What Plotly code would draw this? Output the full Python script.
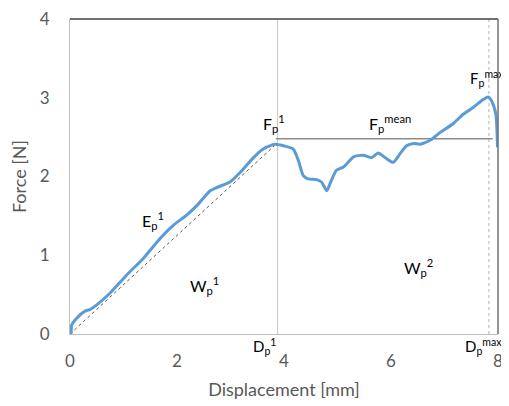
import plotly.graph_objects as go

# Force-displacement curve
disp = [0.0, 0.02, 0.03, 0.125, 0.28, 0.37, 0.5, 0.75, 1.06, 1.37, 1.68, 1.93, 2.18, 2.37,
        2.62, 2.74, 2.99, 3.18, 3.43, 3.61, 3.83, 3.93, 3.99, 4.17, 4.27, 4.36, 4.45, 4.61,
        4.70, 4.80, 4.86, 4.98, 5.11, 5.30, 5.48, 5.64, 5.76, 5.89, 6.04, 6.17, 6.29, 6.42,
        6.54, 6.73, 6.92, 7.16, 7.35, 7.54, 7.73, 7.82, 7.88, 7.96, 7.99]
force = [0.0, 0.01, 0.11, 0.2, 0.29, 0.31, 0.37, 0.52, 0.75, 0.96, 1.21, 1.38, 1.51, 1.63,
         1.82, 1.86, 1.93, 2.05, 2.24, 2.35, 2.41, 2.40, 2.39, 2.35, 2.20, 2.01, 1.97, 1.96,
         1.93, 1.82, 1.91, 2.08, 2.12, 2.25, 2.27, 2.24, 2.30, 2.24, 2.18, 2.29, 2.39, 2.42,
         2.41, 2.46, 2.56, 2.67, 2.79, 2.88, 2.98, 3.01, 2.96, 2.79, 2.37]

# Reference lines
secant_x = [0.0, 3.85]
secant_y = [0.0, 2.41]
dp1_x = [3.88, 3.88]
dp1_y = [0.0, 4.0]
dpmax_x = [7.83, 7.83]
dpmax_y = [0.0, 4.0]
fmean_x = [3.85, 7.9]
fmean_y = [2.48, 2.48]

# Labels inside the plot (data coordinates)
label_text = ["E<sub>p</sub><sup>1</sup>", "W<sub>p</sub><sup>1</sup>", "W<sub>p</sub><sup>2</sup>",
              "F<sub>p</sub><sup>1</sup>", "F<sub>p</sub><sup>mean</sup>"]
label_x = [1.55, 2.52, 6.52, 3.81, 5.98]
label_y = [1.44, 0.62, 0.85, 2.67, 2.67]

# Labels near the axis / edge
fmax_text = "F<sub>p</sub><sup>max</sup>"
fmax_x = 7.80
fmax_y = 3.24
dlabel_text = ["D<sub>p</sub><sup>1</sup>", "D<sub>p</sub><sup>max</sup>"]
dlabel_x = [3.64, 7.72]
dlabel_y = -0.16

x_ticks = [0, 2, 4, 6, 8]
y_ticks = [0, 1, 2, 3, 4]
y_max = 4.0

FONT = "Lato, Open Sans, sans-serif"

fig = go.Figure()
fig.add_trace(go.Scatter(x=dp1_x, y=dp1_y, mode="lines",
                         line=dict(color="#c8c8c8", width=1), hoverinfo="skip"))
fig.add_trace(go.Scatter(x=dpmax_x, y=dpmax_y, mode="lines",
                         line=dict(color="#bfbfbf", width=1.2, dash="dot"), hoverinfo="skip"))
fig.add_trace(go.Scatter(x=fmean_x, y=fmean_y, mode="lines",
                         line=dict(color="#8c8c8c", width=1.5), hoverinfo="skip"))
fig.add_trace(go.Scatter(x=secant_x, y=secant_y, mode="lines",
                         line=dict(color="#555555", width=1, dash="dot"), hoverinfo="skip"))
fig.add_trace(go.Scatter(x=disp, y=force, mode="lines",
                         line=dict(color="#5B9BD5", width=3, shape="spline", smoothing=0.6)))

for t, lx, ly in zip(label_text, label_x, label_y):
    fig.add_annotation(x=lx, y=ly, text=t, showarrow=False, xref="x", yref="y",
                       xanchor="center", yanchor="middle",
                       font=dict(family=FONT, size=16, color="#000000"))

fig.add_annotation(x=fmax_x, y=fmax_y, text=fmax_text, showarrow=False, xref="x", yref="y",
                   xanchor="center", yanchor="middle",
                   font=dict(family=FONT, size=15, color="#000000"))

for t, lx in zip(dlabel_text, dlabel_x):
    fig.add_annotation(x=lx, y=dlabel_y / y_max, text=t, showarrow=False, xref="x", yref="paper",
                       xanchor="center", yanchor="middle",
                       font=dict(family=FONT, size=15, color="#000000"))

fig.add_shape(type="line", xref="paper", yref="paper", x0=0, x1=1, y0=1, y1=1,
              line=dict(color="#404040", width=1.5))
fig.add_shape(type="line", xref="paper", yref="paper", x0=1, x1=1, y0=0, y1=1,
              line=dict(color="#707070", width=1.5))

# page body has an 8px margin, so the figure is sized/offset to compensate
fig.update_layout(
    width=501, height=398,
    margin=dict(l=62, r=11, t=11, b=72),
    paper_bgcolor="white", plot_bgcolor="white",
    showlegend=False,
    font=dict(family=FONT, color="#595959"),
    xaxis=dict(range=[0, 8], tickvals=x_ticks, showgrid=False, zeroline=False,
               showline=True, linecolor="#bfbfbf", linewidth=1, automargin=False,
               tickfont=dict(size=17, color="#595959"), ticks="", ticklabelstandoff=12,
               ticklabeloverflow="allow",
               title=dict(text="Displacement [mm]", font=dict(size=18, color="#595959"), standoff=12)),
    yaxis=dict(range=[0, 4], tickvals=y_ticks, showgrid=False, zeroline=False,
               showline=True, linecolor="#bfbfbf", linewidth=1, automargin=False,
               tickfont=dict(size=17, color="#595959"), ticks="", ticklabelstandoff=16,
               ticklabeloverflow="allow",
               title=dict(text="Force [N]", font=dict(size=18, color="#595959"), standoff=14)),
)

fig.write_html("out.html")
